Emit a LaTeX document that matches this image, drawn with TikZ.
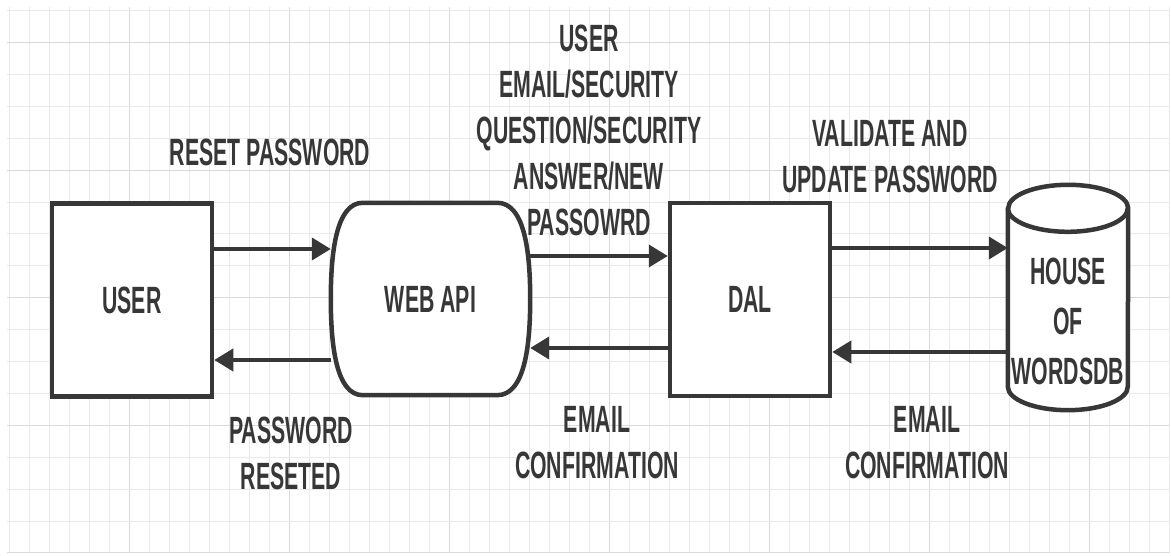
\documentclass[tikz,border=0pt]{standalone}
\usepackage{fontspec}
\newfontfamily\handfont[FakeStretch=0.56]{Liberation Sans}
\usetikzlibrary{arrows.meta}
\definecolor{inkc}{HTML}{373737}
\definecolor{gridc}{HTML}{E9E9E9}
\definecolor{gridd}{HTML}{D9D9D9}
\pgfdeclarelayer{back}
\pgfsetlayers{back,main}
\tikzset{
  lbl/.style={font=\handfont\bfseries\fontsize{38}{46}\selectfont,text=inkc,align=center,inner sep=0pt},
  boxc/.style={lbl,draw=inkc,line width=4.5pt,fill=white,minimum width=160pt,minimum height=193pt},
  shapeline/.style={draw=inkc,line width=4.5pt,fill=white,line join=round},
  flow/.style={draw=inkc,line width=4pt,-{Triangle[length=19pt,width=22pt]}},
}

\begin{document}
\begin{tikzpicture}[x=1pt,y=1pt]
  \useasboundingbox (0,0) rectangle (1171,556);
  \begin{pgfonlayer}{back}
    \fill[white] (0,0) rectangle (1171,556);
    \foreach \i in {0,...,58} {\pgfmathparse{mod(\i,8)==6?"gridd":"gridc"}\draw[\pgfmathresult,line width=1pt] (9+20*\i,3) -- (9+20*\i,549);}
    \foreach \j in {0,...,17} {\pgfmathparse{mod(\j,4)==0?"gridd":"gridc"}\draw[\pgfmathresult,line width=1pt] (7,3+31.9*\j) -- (1169,3+31.9*\j);}
  \end{pgfonlayer}

  \node[boxc] (user) at (132,256) {USER};
  \node[lbl,minimum width=199pt,minimum height=192pt] (webapi) at (430.5,257) {WEB API};
  \node[boxc] (dal) at (750,256.5) {DAL};
  \node[lbl,minimum width=120pt,minimum height=178pt] (db) at (1068,235) {HOUSE\\[4pt]OF\\[4pt]WORDSDB};

  % outlines of the two round shapes
  \begin{pgfonlayer}{back}
    \draw[shapeline] ([xshift=32pt]webapi.north west) -- ([xshift=-33pt]webapi.north east)
      .. controls ([xshift=-5pt]webapi.north east) and ([yshift=45pt]webapi.east) .. (webapi.east)
      .. controls ([yshift=-45pt]webapi.east) and ([xshift=-5pt]webapi.south east) .. ([xshift=-33pt]webapi.south east)
      -- ([xshift=32pt]webapi.south west)
      .. controls ([xshift=5pt]webapi.south west) and ([yshift=-45pt]webapi.west) .. (webapi.west)
      .. controls ([yshift=45pt]webapi.west) and ([xshift=5pt]webapi.north west) .. ([xshift=32pt]webapi.north west) -- cycle;
    \draw[shapeline] ([yshift=23.5pt]db.north west) -- ([yshift=23.5pt]db.south west)
      arc[start angle=180,end angle=360,x radius=60pt,y radius=23.5pt] -- ([yshift=23.5pt]db.north east)
      arc[start angle=0,end angle=180,x radius=60pt,y radius=23.5pt] -- cycle;
    \draw[shapeline,fill=none] ([yshift=23.5pt]db.north west) arc[start angle=180,end angle=360,x radius=60pt,y radius=23.5pt];
  \end{pgfonlayer}

  \draw[flow] (user.east |- 0,307) -- (webapi.west |- 0,307);
  \draw[flow] (webapi.west |- 0,196) -- (user.east |- 0,196);
  \draw[flow] (webapi.east |- 0,300) -- (dal.west |- 0,300);
  \draw[flow] (dal.west |- 0,208) -- (webapi.east |- 0,208);
  \draw[flow] (dal.east |- 0,308) -- (db.west |- 0,308);
  \draw[flow] (db.west |- 0,204) -- (dal.east |- 0,204);

  \node[lbl] (reset) at (270,404) {RESET PASSWORD};
  \node[lbl] (req) at (589,426) {USER\\EMAIL/SECURITY\\QUESTION/SECURITY\\ANSWER/NEW\\PASSOWRD};
  \node[lbl] (valid) at (890,399) {VALIDATE AND\\UPDATE PASSWORD};
  \node[lbl] (done) at (291,103) {PASSWORD\\RESETED};
  \node[lbl] (mail1) at (597,113) {EMAIL\\CONFIRMATION};
  \node[lbl] (mail2) at (927,113) {EMAIL\\CONFIRMATION};
\end{tikzpicture}
\end{document}
